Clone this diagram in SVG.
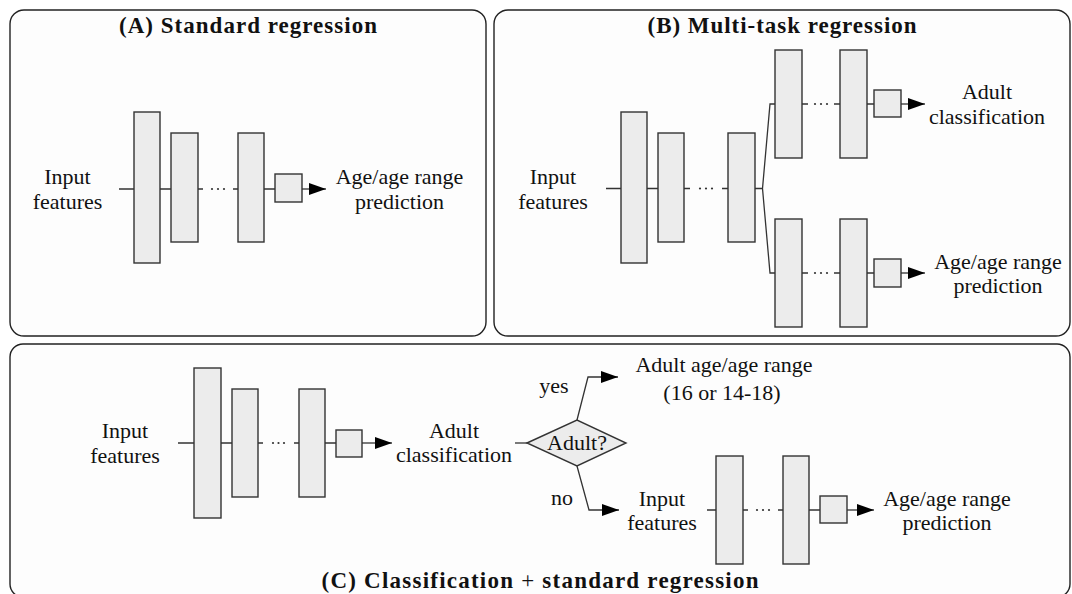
<svg xmlns="http://www.w3.org/2000/svg" width="1072" height="594" viewBox="0 0 1072 594">
<defs>
<marker id="arr" markerUnits="userSpaceOnUse" markerWidth="18" markerHeight="13" refX="17" refY="6" orient="auto">
<path d="M0,0 L17,6 L0,12 z" fill="#000"/>
</marker>
<style>
.panel{fill:#fdfdfd;stroke:#222;stroke-width:1.4}
.layer{fill:#ececec;stroke:#333;stroke-width:1.4}
.ln{fill:none;stroke:#333;stroke-width:1.3}
.ar{fill:none;stroke:#333;stroke-width:1.3;marker-end:url(#arr)}
.dot{fill:#333}
.t{font-family:"Liberation Serif","Times New Roman",serif;font-size:22px;fill:#111;text-anchor:middle}
.ttl{font-family:"Liberation Serif","Times New Roman",serif;font-size:23px;font-weight:bold;fill:#111;text-anchor:middle}
</style>
</defs>
<rect width="1072" height="594" fill="#fff"/>

<g id="panelA">
<rect class="panel" x="10" y="10" width="476" height="326" rx="14"/>
<text class="ttl" x="248" y="33" textLength="258" lengthAdjust="spacing">(A) Standard regression</text>
</g>
<g id="panelB">
<rect class="panel" x="494" y="10" width="576" height="326" rx="14"/>
<text class="ttl" x="782" y="33" textLength="269" lengthAdjust="spacing">(B) Multi-task regression</text>
</g>
<g id="panelC">
<rect class="panel" x="10" y="344" width="1060" height="253" rx="13"/>
<text class="ttl" x="540" y="588" textLength="437" lengthAdjust="spacing">(C) Classification <tspan font-weight="normal">+</tspan> standard regression</text>
</g>

<g id="connectors">
<path class="ln" d="M119,189H134M160,189H171M198,189H203M233,189H238M264,189H275"/>
<circle class="dot" cx="212" cy="189" r="1.1"/><circle class="dot" cx="218" cy="189" r="1.1"/><circle class="dot" cx="224" cy="189" r="1.1"/>
<path class="ar" d="M302,189H326"/>
<path class="ln" d="M606,188.5H621M647,188.5H658M684,188.5H690M722,188.5H728"/>
<circle class="dot" cx="700" cy="188.5" r="1.1"/><circle class="dot" cx="706" cy="188.5" r="1.1"/><circle class="dot" cx="712" cy="188.5" r="1.1"/>
<path class="ln" d="M755,188.5H762.5L770,104H775M762.5,188.5L770,273H775"/>
<path class="ln" d="M802,104H808M834,104H840M867,104H874"/>
<circle class="dot" cx="815" cy="104" r="1.1"/><circle class="dot" cx="821" cy="104" r="1.1"/><circle class="dot" cx="827" cy="104" r="1.1"/>
<path class="ar" d="M901,104H925"/>
<path class="ln" d="M802,273H808M834,273H840M867,273H874"/>
<circle class="dot" cx="815" cy="273" r="1.1"/><circle class="dot" cx="821" cy="273" r="1.1"/><circle class="dot" cx="827" cy="273" r="1.1"/>
<path class="ar" d="M901,273H925"/>
<path class="ln" d="M178,443H194M221,443H232M258,443H263M294,443H299M325,443H336"/>
<circle class="dot" cx="273" cy="443" r="1.1"/><circle class="dot" cx="278.5" cy="443" r="1.1"/><circle class="dot" cx="284" cy="443" r="1.1"/>
<path class="ar" d="M362,443H392"/>
<path class="ln" d="M515,443H527"/>
<path class="ar" d="M577,420L588,377H618"/>
<path class="ar" d="M577,466L589,510H619"/>
<path class="ln" d="M707,510H716M743,510H748M778,510H783M809,510H820"/>
<circle class="dot" cx="757" cy="510" r="1.1"/><circle class="dot" cx="763" cy="510" r="1.1"/><circle class="dot" cx="769" cy="510" r="1.1"/>
<path class="ar" d="M847,510H874"/>
</g>

<g id="A-input"><text class="t" x="67.5" y="184">Input</text><text class="t" x="67.5" y="208.5">features</text></g>
<g id="A-l1"><rect class="layer" x="134" y="112" width="26" height="151"/></g>
<g id="A-l2"><rect class="layer" x="171" y="133" width="27" height="109"/></g>
<g id="A-l3"><rect class="layer" x="238" y="133" width="26" height="109"/></g>
<g id="A-out"><rect class="layer" x="275" y="174" width="27" height="28"/></g>
<g id="A-pred"><text class="t" x="399.5" y="184">Age/age range</text><text class="t" x="399.5" y="209">prediction</text></g>

<g id="B-input"><text class="t" x="553" y="184">Input</text><text class="t" x="553" y="208.5">features</text></g>
<g id="B-l1"><rect class="layer" x="621" y="112" width="26" height="151"/></g>
<g id="B-l2"><rect class="layer" x="658" y="133" width="26" height="109"/></g>
<g id="B-l3"><rect class="layer" x="728" y="133" width="27" height="109"/></g>
<g id="B-u1"><rect class="layer" x="775" y="50" width="27" height="108"/></g>
<g id="B-u2"><rect class="layer" x="840" y="50" width="27" height="108"/></g>
<g id="B-uout"><rect class="layer" x="874" y="90" width="27" height="27"/></g>
<g id="B-adult"><text class="t" x="987" y="99">Adult</text><text class="t" x="987" y="124">classification</text></g>
<g id="B-d1"><rect class="layer" x="775" y="219" width="27" height="108"/></g>
<g id="B-d2"><rect class="layer" x="840" y="219" width="27" height="108"/></g>
<g id="B-dout"><rect class="layer" x="874" y="259" width="27" height="28"/></g>
<g id="B-pred"><text class="t" x="998" y="269">Age/age range</text><text class="t" x="998" y="293">prediction</text></g>

<g id="C-input"><text class="t" x="125" y="438">Input</text><text class="t" x="125" y="462.5">features</text></g>
<g id="C-l1"><rect class="layer" x="194" y="368" width="27" height="150"/></g>
<g id="C-l2"><rect class="layer" x="232" y="389" width="26" height="108"/></g>
<g id="C-l3"><rect class="layer" x="299" y="389" width="26" height="108"/></g>
<g id="C-out"><rect class="layer" x="336" y="430" width="26" height="27"/></g>
<g id="C-adult"><text class="t" x="454" y="438">Adult</text><text class="t" x="454" y="462">classification</text></g>
<g id="C-decision"><path class="layer" d="M527,443L577,420L626,443L577,466z"/><text class="t" x="577" y="450">Adult?</text></g>
<g id="C-yes"><text class="t" x="554" y="393">yes</text></g>
<g id="C-no"><text class="t" x="562" y="505">no</text></g>
<g id="C-adultage"><text class="t" x="724" y="372">Adult age/age range</text><text class="t" x="722" y="400">(16 or 14-18)</text></g>
<g id="C-input2"><text class="t" x="662" y="505.5">Input</text><text class="t" x="662" y="530">features</text></g>
<g id="C-m1"><rect class="layer" x="716" y="456" width="27" height="108"/></g>
<g id="C-m2"><rect class="layer" x="783" y="456" width="26" height="108"/></g>
<g id="C-mout"><rect class="layer" x="820" y="496" width="27" height="27"/></g>
<g id="C-pred"><text class="t" x="947" y="505.5">Age/age range</text><text class="t" x="947" y="530">prediction</text></g>
</svg>
